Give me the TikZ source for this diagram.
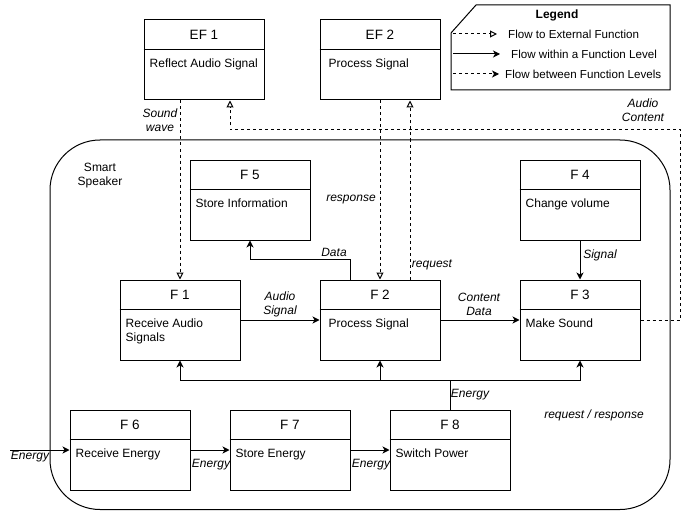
\documentclass[tikz,border=0pt]{standalone}
\usepackage{fontspec}
\setmainfont{Liberation Sans}
\usepackage{xcolor}
\usepackage{tikz}
\usetikzlibrary{arrows.meta}
\definecolor{bg}{HTML}{FFFFFF}
\definecolor{ink}{HTML}{000000}
\tikzset{
  base/.style={draw=ink, line width=1pt},
  fn/.style={draw=ink, fill=bg, line width=1pt, minimum width=120pt, minimum height=80pt, inner sep=0pt},
  hd/.style={text=ink, inner sep=0pt, font=\fontsize{13.5}{16}\selectfont},
  bd/.style={anchor=north west, inner sep=0pt, align=left, text=ink, font=\fontsize{12}{14}\selectfont},
  lab/.style={text=ink, inner sep=0pt, align=center, font=\fontsize{12}{14}\selectfont},
  labi/.style={lab, font=\fontsize{12}{14}\selectfont\itshape},
  leg/.style={lab, anchor=west, font=\fontsize{11.6}{14}\selectfont},
  flow/.style={base, -{Stealth[length=7pt,width=7pt,inset=2pt]}},
  ext/.style={base, dash pattern=on 3pt off 3pt, -{Triangle[open,length=7pt,width=7pt]}},
  lvl/.style={base, dash pattern=on 3pt off 3pt, -{Stealth[length=7pt,width=7pt,inset=2pt]}},
}
\begin{document}
\begin{tikzpicture}[x=1pt, y=-1pt]
  \useasboundingbox (0,0) rectangle (689,511);
  % system boundary
  \draw[base, rounded corners=50pt] (50,140) rectangle (670,509.5);
  \node[lab] (sys) at (100,176) {Smart\\Speaker};
  % external functions
  \node[fn] (ef1) at (204,60) {};
  \draw[base] ([yshift=-30pt]ef1.north west) -- ([yshift=-30pt]ef1.north east);
  \node[hd] at ([yshift=-15pt]ef1.north) {EF 1};
  \node[bd] at ([shift={(6pt,-39pt)}]ef1.north west) {Reflect Audio Signal};
  \node[fn] (ef2) at (380,60) {};
  \draw[base] ([yshift=-30pt]ef2.north west) -- ([yshift=-30pt]ef2.north east);
  \node[hd] at ([yshift=-15pt]ef2.north) {EF 2};
  \node[bd] at ([shift={(9pt,-39pt)}]ef2.north west) {Process Signal};
  % functions
  \node[fn] (f5) at (250,200) {};
  \draw[base] ([yshift=-30pt]f5.north west) -- ([yshift=-30pt]f5.north east);
  \node[hd] at ([yshift=-15pt]f5.north) {F 5};
  \node[bd] at ([shift={(6pt,-39pt)}]f5.north west) {Store Information};
  \node[fn] (f4) at (580,200) {};
  \draw[base] ([yshift=-30pt]f4.north west) -- ([yshift=-30pt]f4.north east);
  \node[hd] at ([yshift=-15pt]f4.north) {F 4};
  \node[bd] at ([shift={(6pt,-39pt)}]f4.north west) {Change volume};
  \node[fn] (f1) at (180,320) {};
  \draw[base] ([yshift=-30pt]f1.north west) -- ([yshift=-30pt]f1.north east);
  \node[hd] at ([yshift=-15pt]f1.north) {F 1};
  \node[bd] at ([shift={(6pt,-39pt)}]f1.north west) {Receive Audio\\Signals};
  \node[fn] (f2) at (380,320) {};
  \draw[base] ([yshift=-30pt]f2.north west) -- ([yshift=-30pt]f2.north east);
  \node[hd] at ([yshift=-15pt]f2.north) {F 2};
  \node[bd] at ([shift={(9pt,-39pt)}]f2.north west) {Process Signal};
  \node[fn] (f3) at (580,320) {};
  \draw[base] ([yshift=-30pt]f3.north west) -- ([yshift=-30pt]f3.north east);
  \node[hd] at ([yshift=-15pt]f3.north) {F 3};
  \node[bd] at ([shift={(6pt,-39pt)}]f3.north west) {Make Sound};
  \node[fn] (f6) at (130,450) {};
  \draw[base] ([yshift=-30pt]f6.north west) -- ([yshift=-30pt]f6.north east);
  \node[hd] at ([yshift=-15pt]f6.north) {F 6};
  \node[bd] at ([shift={(6pt,-39pt)}]f6.north west) {Receive Energy};
  \node[fn] (f7) at (290,450) {};
  \draw[base] ([yshift=-30pt]f7.north west) -- ([yshift=-30pt]f7.north east);
  \node[hd] at ([yshift=-15pt]f7.north) {F 7};
  \node[bd] at ([shift={(6pt,-39pt)}]f7.north west) {Store Energy};
  \node[fn] (f8) at (450,450) {};
  \draw[base] ([yshift=-30pt]f8.north west) -- ([yshift=-30pt]f8.north east);
  \node[hd] at ([yshift=-15pt]f8.north) {F 8};
  \node[bd] at ([shift={(6pt,-39pt)}]f8.north west) {Switch Power};
  % flows to external functions
  \draw[ext] (ef1.south -| f1) -- (f1.north);
  \node[labi] at (160,120) {Sound\\wave};
  \draw[ext] (ef2.south) -- (f2.north);
  \node[labi] at (351,200) {response};
  \draw[ext] ([xshift=30pt]f2.north) -- ([xshift=30pt]ef2.south);
  \node[labi] at (432,265) {request};
  \coordinate (ac) at (680,130);
  \draw[ext] (f3.east) -| (ac) -| ([xshift=26pt]ef1.south);
  \node[labi] at (643,110) {Audio\\Content};
  % flows within the level
  \draw[flow] ([xshift=-30pt]f2.north) -- ++(0,-20) -| (f5.south);
  \node[labi] at (334,252) {Data};
  \draw[flow] (f1.east) -- (f2.west);
  \node[labi] at (280,304) {Audio\\Signal};
  \draw[flow] (f2.east) -- (f3.west);
  \node[labi] at (479,304) {Content\\Data};
  \draw[flow] (f4.south) -- (f3.north);
  \node[labi] at (600,255) {Signal};
  % energy
  \coordinate (src) at (10,450);
  \draw[flow] (src) -- (f6.west);
  \node[labi] at (30,457) {Energy};
  \draw[flow] (f6.east) -- (f7.west);
  \node[labi] at (211,465) {Energy};
  \draw[flow] (f7.east) -- (f8.west);
  \node[labi] at (371,465) {Energy};
  \coordinate (bus) at (450,380);
  \draw[flow] (f8.north) -- (bus) -| (f1.south);
  \draw[flow] (bus) -| (f3.south);
  \draw[flow] (bus -| f2) -- (f2.south);
  \node[labi] at (470,395) {Energy};
  \node[labi] at (594,415) {request / response};
  % legend
  \draw[base, fill=bg] (476,5) -- (670,5) -- (670,90) -- (451,90) -- (451,33) -- cycle;
  \node[lab, font=\fontsize{12}{14}\selectfont\bfseries] (lgd) at (557,15) {Legend};
  \coordinate (k1) at (453,34);
  \coordinate (k2) at (453,54);
  \coordinate (k3) at (453,74);
  \draw[ext] (k1) -- ++(44,0);
  \draw[flow] (k2) -- ++(47,0);
  \draw[lvl] (k3) -- ++(46,0);
  \node[leg] at (508,34) {Flow to External Function};
  \node[leg] at (511,54) {Flow within a Function Level};
  \node[leg] at (505,74) {Flow between Function Levels};
\end{tikzpicture}
\end{document}
